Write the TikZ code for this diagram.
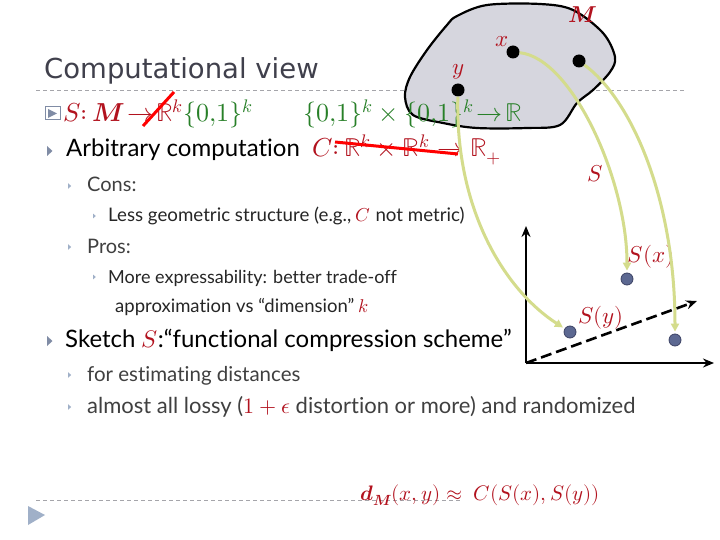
\documentclass[tikz,border=0pt]{standalone}
\usepackage{fontspec}
\usepackage{unicode-math}
\setmathfont{Latin Modern Math}
\setmainfont{Lato}[Ligatures={NoCommon}]
\newfontfamily\titlefont{DejaVu Sans}
\usetikzlibrary{arrows.meta}
\definecolor{redt}{RGB}{178,18,30}
\definecolor{greent}{RGB}{40,128,40}
\definecolor{titlec}{RGB}{64,64,76}
\definecolor{subc}{RGB}{64,64,64}
\definecolor{bulc}{RGB}{128,140,165}
\definecolor{bulc2}{RGB}{160,176,200}
\definecolor{blobc}{RGB}{214,214,222}
\definecolor{skc}{RGB}{212,220,140}
\definecolor{pdot}{RGB}{92,104,145}
\definecolor{pdotd}{RGB}{60,66,100}
\definecolor{dashc}{RGB}{165,165,170}
\tikzset{
  fs/.style={font=\fontsize{#1}{#1}\selectfont},
  txt/.style={anchor=base west, inner sep=0pt},
  tri/.pic={\fill[bulc] (0,-5) -- (5.5,0) -- (0,5) -- cycle;},
  trismall/.pic={\fill[bulc2] (0,-3.5) -- (4,0) -- (0,3.5) -- cycle;},
  rule/.style={draw=dashc, line width=0.8pt, dash pattern=on 4pt off 3pt},
  blackdot/.style={circle, fill=black, inner sep=0pt, minimum size=13pt},
  plotdot/.style={circle, fill=pdot, draw=pdotd, line width=0.8pt, inner sep=0pt, minimum size=12pt},
  sk/.style={draw=skc, line width=3pt, -{Triangle[length=8pt,width=8pt]}, shorten >=2pt},
  axis/.style={line width=2.6pt, -{Stealth[length=11pt,width=9pt]}},
  lab/.style={text=redt, inner sep=0pt, font=\fontsize{23}{23}\selectfont},
}
\begin{document}
\begin{tikzpicture}[x=1pt,y=-1pt]
\useasboundingbox[fill=white] (0,0) rectangle (720,540);

% rules
\draw[rule] (36,90) -- (686,90);
\draw[rule] (36,500) -- (462,500);
\fill[bulc2] (28,506) -- (45,515) -- (28,525) -- cycle;

% blob M
\draw[fill=blobc, line width=2.2pt, line join=round]
  plot[smooth cycle, tension=0.55] coordinates {
  (457,16) (487,5) (540,4) (573,10) (603,33) (615,57) (610,72) (593,90)
  (577,103) (560,125) (527,128) (477,128) (443,123) (413,115) (405,97)
  (410,77) (427,50) (447,25)};

% title
\node[txt, font=\titlefont\fontsize{27.5}{30}\selectfont, text=titlec] (title) at (44,79) {Computational view};

% row 1
\draw[bulc, line width=1pt] (45,107) rectangle (60,120);
\fill[bulc] (48,109) -- (57,113.5) -- (48,118) -- cycle;
\node[txt, fs=26, text=redt] (r1a) at (63,122) {$S{:}\,\symbfit{M}\!\to\!\mathbb{R}^{k}$};
\node[txt, fs=26, text=greent] (r1b) at (183,122) {$\{0{,}1\}^{k}$};
\node[txt, fs=26, text=greent] (r1c) at (303,122) {$\{0{,}1\}^{k}\times\{0{,}1\}^{k}\!\to\!\mathbb{R}$};
\draw[red, line width=3pt] (143,126) -- (174,92);

% row 2
\pic at (47,151) {tri};
\node[txt, fs=24] (r2) at (66,157) {Arbitrary computation};
\node[txt, fs=26, text=redt] (r2m) at (312,157) {$C{:}\,\mathbb{R}^{k}\times\mathbb{R}^{k}\to\mathbb{R}_{+}$};
\draw[red, line width=3pt] (335,142) -- (458,154);

% rows 3-7
\pic[scale=0.8] at (68,186) {trismall};
\node[txt, fs=20, text=subc] (cons) at (87,192) {Cons:};
\pic[scale=0.7] at (93,216) {trismall};
\node[txt, fs=18.7, text=black!85] (less) at (108,222) {Less geometric structure (e.g., \textcolor{redt}{$C$} not metric)};
\pic[scale=0.8] at (68,247) {trismall};
\node[txt, fs=20, text=subc] (pros) at (87,253) {Pros:};
\pic[scale=0.7] at (93,277) {trismall};
\node[txt, fs=18, text=black!85] (more) at (108,283) {More expressability: better trade-off};
\node[txt, fs=18.5, text=black!85] (approx) at (115,312) {approximation vs “dimension” \textcolor{redt}{$k$}};

% row 8
\pic at (47,341) {tri};
\node[txt, fs=24] (sketch) at (65,347) {Sketch \textcolor{redt}{$S$}:“functional compression scheme”};

% rows 9-10
\pic[scale=0.8] at (68,375) {trismall};
\node[txt, fs=20.5, text=subc] (est) at (87,381) {for estimating distances};
\pic[scale=0.8] at (68,407) {trismall};
\node[txt, fs=22, text=subc] (lossy) at (87,413) {almost all lossy (\textcolor{redt}{$1+\epsilon$} distortion or more) and randomized};

% bottom formula
\node[txt, fs=21, text=redt] (formula) at (360,500) {$\symbfit{d}_{\symbfit{M}}(x,y)\approx\ C(S(x),S(y))$};

% points in M
\node[blackdot] (x) at (513,52) {};
\node[blackdot] (z) at (579,61) {};
\node[blackdot] (y) at (458,90) {};
\node[lab] (xl) at (502,42) {$x$};
\node[lab] (yl) at (458,72) {$y$};
\node[lab] (Ml) at (583,15) {$\symbfit{M}$};
\node[lab] (Sl) at (595,174) {$S$};

% axes
\coordinate (O) at (526,363);
\coordinate (Yt) at (526,226);
\coordinate (Xt) at (714,363);
\coordinate (Dt) at (697,301);
\draw[axis] (O) -- (Yt);
\draw[axis] (O) -- (Xt);
\draw[axis, dash pattern=on 11pt off 5pt] (O) -- (Dt);

% image points
\node[plotdot] (sy) at (570,332) {};
\node[plotdot] (sx) at (627,279) {};
\node[plotdot] (sz) at (675,340) {};
\node[lab] (sxl) at (651,257) {$S(x)$};
\node[lab] (syl) at (601,318) {$S(y)$};

% sketch arrows
\draw[sk] (y) .. controls (455,210) and (505,290) .. (sy);
\draw[sk] (x) .. controls (572,58) and (627,180) .. (sx);
\draw[sk] (z) .. controls (632,100) and (675,200) .. (sz);
\end{tikzpicture}
\end{document}
